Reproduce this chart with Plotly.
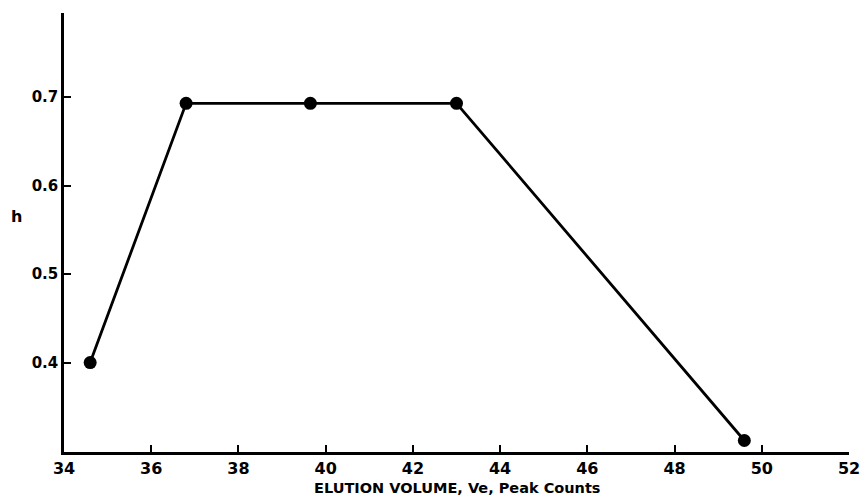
import plotly.graph_objects as go

elution_volume = [34.6, 36.8, 39.65, 43.0, 49.6]
h_values = [0.40, 0.693, 0.693, 0.693, 0.312]
x_ticks = [34, 36, 38, 40, 42, 44, 46, 48, 50, 52]
y_ticks = [0.4, 0.5, 0.6, 0.7]
y_tick_text = ["0.4", "0.5", "0.6", "0.7"]

FONT = "DejaVu Sans"

fig = go.Figure()
fig.add_trace(go.Scatter(
    x=elution_volume, y=h_values, mode="lines+markers",
    line=dict(color="black", width=2.8),
    marker=dict(color="black", size=13),
    showlegend=False, cliponaxis=False,
))

fig.update_layout(
    width=861, height=500,
    margin=dict(l=64, r=12, t=13, b=48, autoexpand=False),
    paper_bgcolor="white", plot_bgcolor="white",
    font=dict(family=FONT, color="black"),
    xaxis=dict(
        range=[34, 52], tickvals=x_ticks, ticktext=[str(v) for v in x_ticks],
        showline=True, linecolor="black", linewidth=2.5,
        ticks="inside", ticklen=7, tickwidth=2, tickcolor="black",
        showgrid=False, zeroline=False, automargin=False,
        tickfont=dict(family=FONT, size=16, color="black", weight="bold"),
    ),
    yaxis=dict(
        range=[0.299, 0.795], tickvals=y_ticks, ticktext=y_tick_text,
        showline=True, linecolor="black", linewidth=2.5,
        ticks="inside", ticklen=7, tickwidth=2, tickcolor="black",
        showgrid=False, zeroline=False, automargin=False,
        tickfont=dict(family=FONT, size=15, color="black", weight="bold"),
    ),
    annotations=[
        dict(
            text="h", xref="paper", yref="y", x=-0.06, y=0.565,
            showarrow=False, xanchor="center", yanchor="middle",
            font=dict(family=FONT, size=16, color="black", weight="bold"),
        ),
        dict(
            text="ELUTION VOLUME, Ve, Peak Counts", xref="paper", yref="paper",
            x=0.5, y=0, yshift=-36, showarrow=False,
            xanchor="center", yanchor="middle",
            font=dict(family=FONT, size=14.5, color="black", weight="bold"),
        ),
    ],
)

fig.write_html(
    "out.html",
    config={"displayModeBar": False},
    post_script="document.body.style.margin='0';document.body.style.overflow='hidden';",
)
